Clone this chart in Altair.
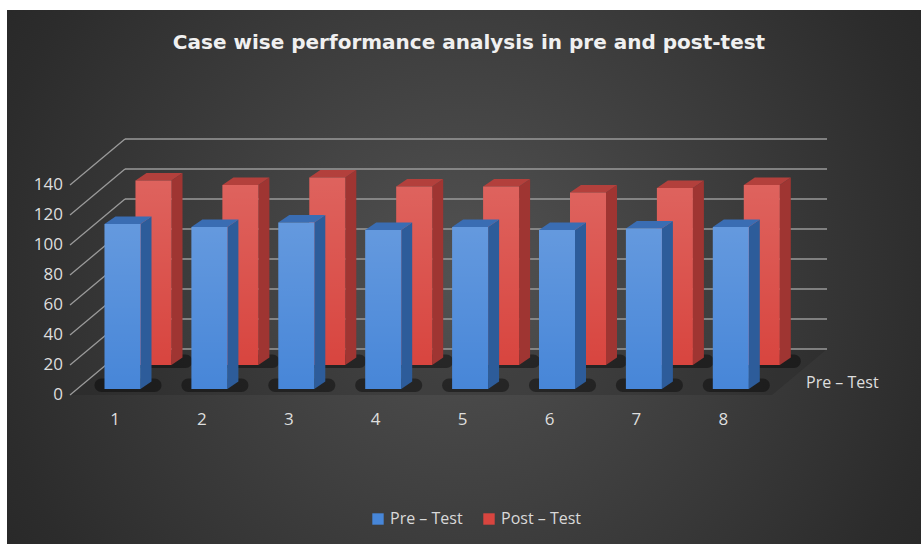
import altair as alt
import pandas as pd

# ---------------- data ----------------
cases = [1, 2, 3, 4, 5, 6, 7, 8]
pre_test = [110, 108, 111, 106, 108, 106, 107, 108]
post_test = [123, 120, 125, 119, 119, 115, 118, 120]
y_ticks = [0, 20, 40, 60, 80, 100, 120, 140]
series_names = ["Pre – Test", "Post – Test"]
depth_label = "Pre – Test"
title_text = "Case wise performance analysis in pre and post-test"

# ---------------- layout constants (pixels) ----------------
W, H = 921, 544
PAD_TOP = 70
PH = H - PAD_TOP
X0 = 115.0     # canvas x of category 1 at the front edge
STEP = 86.9    # pixels between categories
Y0 = 395.0     # canvas y of value 0 at the front edge
K = 1.5        # pixels per value unit

def ux(px):
    return px / STEP

def uy(px):
    return px / K

def xu(canvas_px):
    return 1 + (canvas_px - X0) / STEP

def yu(canvas_py):
    return (Y0 - canvas_py) / K

x_dom = [xu(0), xu(W)]
y_dom = [yu(H), yu(PAD_TOP)]
xs = alt.Scale(domain=x_dom, nice=False, zero=False)
ys = alt.Scale(domain=y_dom, nice=False, zero=False)

HALF = 18.0     # half bar width px
SD_X, SD_Y = 11.0, 7.5  # bar depth px
ROWS = {
    "Pre – Test": (7.5, 6.0, pre_test),
    "Post – Test": (38.5, 30.0, post_test),
}
WALL_DX, WALL_DY = 55.0, 46.0
FRONT_L, WALL_R = 70.0, 827.0

COLORS = {
    "Pre – Test": dict(front="#4786d8", side="#2d5c9a", top="#3a6db3"),
    "Post – Test": dict(front="#d8453f", side="#9f3532", top="#b3403c"),
}

front, side, top, shadow = [], [], [], []
for s, (dxp, dyp, vals) in ROWS.items():
    for c, v in zip(cases, vals):
        cx = c + ux(dxp)
        b = uy(dyp)
        l, r = cx - ux(HALF), cx + ux(HALF)
        t = b + v
        key = f"{s}-{c}"
        front.append(dict(series=s, case=c, value=v, x=l, x2=r, y=b, y2=t))
        side += [dict(series=s, key=key, x=r, y=b, y2=t),
                 dict(series=s, key=key, x=r + ux(SD_X), y=b + uy(SD_Y), y2=t + uy(SD_Y))]
        top += [dict(series=s, key=key, y=t, x=l, x2=r),
                dict(series=s, key=key, y=t + uy(SD_Y), x=l + ux(SD_X), x2=r + ux(SD_X))]
        shadow.append(dict(series=s, x=l - ux(10), x2=r + ux(SD_X + 10),
                           y=b - uy(3), y2=b + uy(SD_Y + 3)))

front_df = pd.DataFrame(front)
side_df = pd.DataFrame(side)
top_df = pd.DataFrame(top)
shadow_df = pd.DataFrame(shadow)

grid = []
for v in y_ticks:
    grid.append(dict(x=xu(FRONT_L), y=v, x2=xu(FRONT_L + WALL_DX), y2=v + uy(WALL_DY)))
    grid.append(dict(x=xu(FRONT_L + WALL_DX), y=v + uy(WALL_DY), x2=xu(WALL_R), y2=v + uy(WALL_DY)))
grid_df = pd.DataFrame(grid)

floor_df = pd.DataFrame([
    dict(y=0.0, x=xu(FRONT_L), x2=xu(WALL_R - WALL_DX)),
    dict(y=uy(WALL_DY), x=xu(FRONT_L + WALL_DX), x2=xu(WALL_R)),
])

ytick_df = pd.DataFrame(dict(v=y_ticks, label=[str(t) for t in y_ticks], x=xu(63)))
case_df = pd.DataFrame(dict(x=cases, label=[str(c) for c in cases], y=uy(-25)))
depth_df = pd.DataFrame(dict(x=[xu(806)], y=[uy(12)], label=[depth_label]))
title_df = pd.DataFrame(dict(x=[xu(469)], y=[yu(43)], label=[title_text]))

X = lambda f="x": alt.X(f"{f}:Q", scale=xs, axis=None)
Y = lambda f="y": alt.Y(f"{f}:Q", scale=ys, axis=None)

# background
bg = alt.Chart(pd.DataFrame({"a": [0]})).mark_rect(
    fill=alt.RadialGradient(
        gradient="radial", x1=0.5, y1=0.5, r1=0, x2=0.5, y2=0.5, r2=0.75,
        stops=[alt.GradientStop(color="#525252", offset=0),
               alt.GradientStop(color="#2c2c2c", offset=0.7),
               alt.GradientStop(color="#202020", offset=1)])
).encode(x=alt.value(7), x2=alt.value(W), y=alt.value(10 - PAD_TOP), y2=alt.value(PH))

floor = alt.Chart(floor_df).mark_area(orient="horizontal", color="#161616", opacity=0.18).encode(
    y=Y("y"), x=X("x"), x2="x2:Q")

gridlines = alt.Chart(grid_df).mark_rule(color="#9a9a9a", strokeWidth=1.3).encode(
    x=X("x"), x2="x2:Q", y=Y("y"), y2="y2:Q")

shadows = alt.Chart(shadow_df).mark_rect(color="#000000", opacity=0.4, cornerRadius=8).encode(
    x=X("x"), x2="x2:Q", y=Y("y"), y2="y2:Q")

def bar_layers(s):
    col = COLORS[s]
    sd = alt.Chart(side_df[side_df.series == s]).mark_area(
        orient="vertical", color=col["side"]).encode(
        x=X("x"), y=Y("y"), y2="y2:Q", detail="key:N")
    tp = alt.Chart(top_df[top_df.series == s]).mark_area(
        orient="horizontal", color=col["top"]).encode(
        y=Y("y"), x=X("x"), x2="x2:Q", detail="key:N")
    fr = alt.Chart(front_df[front_df.series == s]).mark_rect().encode(
        x=X("x"), x2="x2:Q", y=Y("y"), y2="y2:Q",
        color=alt.Color("series:N",
                        scale=alt.Scale(domain=series_names,
                                        range=[COLORS[n]["front"] for n in series_names]),
                        legend=alt.Legend(
                            title=None, orient="none", direction="horizontal",
                            legendX=370, legendY=441, padding=0,
                            symbolType="square", symbolSize=130, symbolStrokeWidth=0,
                            labelFont="Open Sans", labelFontSize=16, labelColor="#d9d9d9",
                            labelOffset=4, columnPadding=18)))
    shine = alt.Chart(front_df[front_df.series == s]).mark_rect(
        fill=alt.LinearGradient(
            gradient="linear", x1=0, y1=0, x2=0, y2=1,
            stops=[alt.GradientStop(color="rgba(255,255,255,0.16)", offset=0),
                   alt.GradientStop(color="rgba(255,255,255,0.0)", offset=1)])
    ).encode(x=X("x"), x2="x2:Q", y=Y("y"), y2="y2:Q")
    return [sd, tp, fr, shine]

ylabels = alt.Chart(ytick_df).mark_text(
    align="right", baseline="middle", font="Open Sans", fontSize=17, color="#dedede").encode(
    x=X("x"), y=Y("v"), text="label:N")

xlabels = alt.Chart(case_df).mark_text(
    align="center", baseline="middle", font="Open Sans", fontSize=17, color="#dedede").encode(
    x=X("x"), y=Y("y"), text="label:N")

dlabel = alt.Chart(depth_df).mark_text(
    align="left", baseline="middle", font="Open Sans", fontSize=16, color="#dedede").encode(
    x=X("x"), y=Y("y"), text="label:N")

title = alt.Chart(title_df).mark_text(
    align="center", baseline="middle", font="DejaVu Sans", fontSize=20, fontWeight="bold",
    color="#f0f0f0").encode(x=X("x"), y=Y("y"), text="label:N")

layers = [bg, floor, gridlines, shadows] + bar_layers("Post – Test") + bar_layers("Pre – Test") + \
    [ylabels, xlabels, dlabel, title]

chart = alt.layer(*layers).properties(
    width=W, height=PH,
    padding={"left": 0, "top": PAD_TOP, "right": 0, "bottom": 0},
    autosize=alt.AutoSizeParams(type="none"),
    background="#ffffff",
).configure_view(stroke=None)

chart.save("out.html", embed_options={"renderer": "svg", "actions": False})
